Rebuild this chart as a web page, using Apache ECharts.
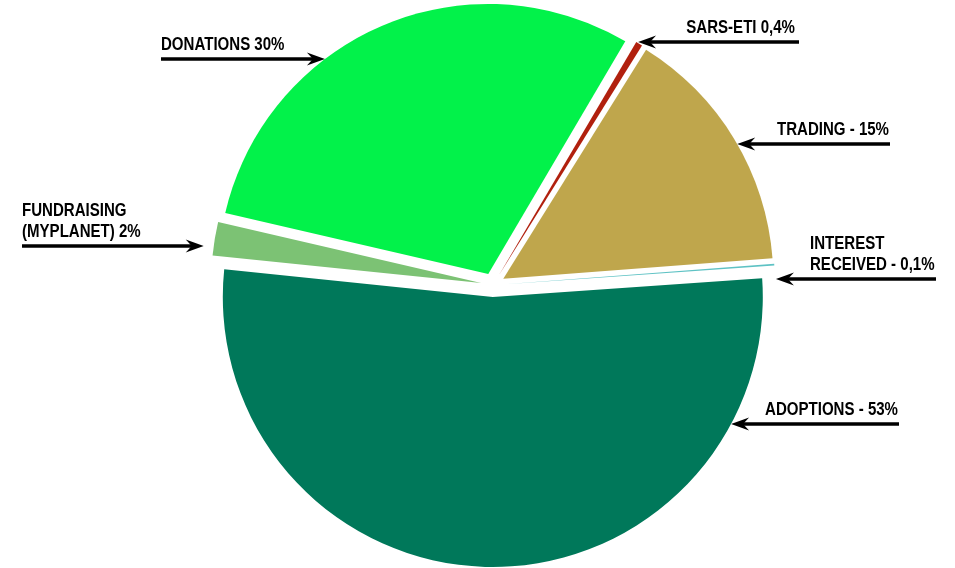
<!DOCTYPE html>
<html><head><meta charset="utf-8">
<script src="https://cdn.jsdelivr.net/npm/echarts@6/dist/echarts.min.js"></script>
<style>html,body{margin:0;padding:0;background:#fff}#c{width:955px;height:568px}</style>
</head><body><div id="c"></div>
<script>
// ---- data ----
const categories = ['SARS-ETI', 'TRADING', 'INTEREST RECEIVED', 'ADOPTIONS', 'FUNDRAISING (MYPLANET)', 'DONATIONS'];
const values = [0.4, 15, 0.1, 53, 2, 30];
const labelTexts = ['SARS-ETI 0,4%', 'TRADING - 15%', 'INTEREST\nRECEIVED - 0,1%', 'ADOPTIONS - 53%', 'FUNDRAISING\n(MYPLANET) 2%', 'DONATIONS 30%'];

// ---- styles / layout ----
const colors = ['#B1200E', '#BFA64C', '#5EC2C4', '#00785A', '#7CC274', '#02F24A'];
const CX = 493, CY = 285, R = 270, OFF = 12, START = 59.5;
const labelSpec = [
  {textX: 795, align: 'right', lineY: 42, lineEnd: 799, gap: 2},
  {textX: 889, align: 'right', lineY: 144, lineEnd: 890, gap: 0},
  {textX: 810, align: 'left', lineY: 279, lineEnd: 936, gap: 1},
  {textX: 898, align: 'right', lineY: 424, lineEnd: 899, gap: 0},
  {textX: 22, align: 'left', lineY: 246, lineEnd: 22, gap: 10},
  {textX: 161, align: 'left', lineY: 59, lineEnd: 161, gap: 0}
];
const FONT = "'Liberation Sans',Arial,sans-serif";
const FONT_SIZE = 17.5, SCALE_X = 0.86, LINE_H = 21;

const total = values.reduce((a, b) => a + b, 0);
function sliceCenter(i) {
  let before = 0;
  for (let k = 0; k < i; k++) before += values[k];
  const a0 = START - before / total * 360;
  const a1 = a0 - values[i] / total * 360;
  const mid = (a0 + a1) / 2 * Math.PI / 180;
  return {ox: CX + OFF * Math.cos(mid), oy: CY - OFF * Math.sin(mid)};
}
function arrowTip(i) {
  const g = sliceCenter(i), s = labelSpec[i];
  const dy = s.lineY - g.oy;
  const dx = Math.sqrt(Math.max(0, R * R - dy * dy));
  const right = s.lineEnd > CX;
  return {x: right ? g.ox + dx + s.gap : g.ox - dx - s.gap, y: s.lineY, right};
}

const AL = 18, AW = 6.5, AN = 6;
const graphics = [];
values.forEach((v, i) => {
  const s = labelSpec[i], t = arrowTip(i);
  const d = t.right ? 1 : -1;
  graphics.push({
    type: 'polygon', silent: true, z: 100,
    shape: {points: [[t.x, t.y], [t.x + d * AL, t.y - AW], [t.x + d * (AL - AN), t.y], [t.x + d * AL, t.y + AW]]},
    style: {fill: '#000'}
  });
  graphics.push({
    type: 'line', silent: true, z: 99,
    shape: {x1: t.x + d * 10, y1: s.lineY, x2: s.lineEnd, y2: s.lineY},
    style: {stroke: '#000', lineWidth: 3.5}
  });
  graphics.push({
    type: 'text', silent: true, z: 100,
    x: s.textX, y: s.lineY - 3, scaleX: SCALE_X,
    style: {
      text: labelTexts[i], fill: '#000', font: 'bold ' + FONT_SIZE + 'px ' + FONT,
      fontWeight: 'bold', fontSize: FONT_SIZE, fontFamily: FONT,
      align: s.align, verticalAlign: 'bottom', lineHeight: LINE_H
    }
  });
});

const chart = echarts.init(document.getElementById('c'), null, {renderer: 'canvas'});
chart.setOption({
  animation: false,
  backgroundColor: '#fff',
  graphic: graphics,
  series: [{
    type: 'pie',
    center: [CX, CY],
    radius: R,
    startAngle: START,
    clockwise: true,
    selectedMode: 'multiple',
    selectedOffset: OFF,
    emphasis: {disabled: true},
    itemStyle: {borderWidth: 0},
    label: {show: false},
    labelLine: {show: false},
    data: categories.map((c, i) => ({
      name: c, value: values[i], selected: true,
      itemStyle: {color: colors[i]},
      select: {itemStyle: {color: colors[i]}}
    }))
  }]
});
</script></body></html>
